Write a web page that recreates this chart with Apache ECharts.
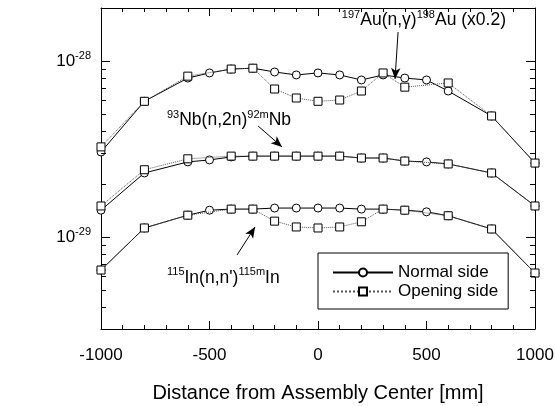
<!DOCTYPE html>
<html><head><meta charset="utf-8">
<script src="https://cdn.jsdelivr.net/npm/echarts@6/dist/echarts.min.js"></script>
<style>html,body{margin:0;padding:0;background:#fff}#c{width:555px;height:406px}</style>
</head><body><div id="c"></div>
<script>
// ---- data ----
const xNormal  = [-1000,-800,-600,-500,-400,-300,-200,-100,0,100,200,300,400,500,600,800,1000];
const xOpening = [-1000,-800,-600,-400,-300,-200,-100,0,100,200,300,400,600,800,1000];

const auNormal  = [3.04e-29,5.9e-29,8.0e-29,8.55e-29,9.0e-29,9.1e-29,8.66e-29,8.33e-29,8.55e-29,8.33e-29,7.8e-29,8.33e-29,8.0e-29,7.8e-29,6.75e-29,4.87e-29,2.63e-29];
const auOpening = [3.25e-29,5.9e-29,8.2e-29,9.0e-29,9.1e-29,6.93e-29,6.16e-29,5.9e-29,6.0e-29,6.75e-29,8.55e-29,7.1e-29,7.5e-29,4.87e-29,2.63e-29];

const nbNormal  = [1.42e-29,2.31e-29,2.67e-29,2.74e-29,2.85e-29,2.88e-29,2.88e-29,2.88e-29,2.88e-29,2.88e-29,2.81e-29,2.81e-29,2.70e-29,2.67e-29,2.60e-29,2.31e-29,1.50e-29];
const nbOpening = [1.50e-29,2.41e-29,2.78e-29,2.88e-29,2.88e-29,2.88e-29,2.88e-29,2.88e-29,2.88e-29,2.81e-29,2.81e-29,2.70e-29,2.60e-29,2.31e-29,1.50e-29];

const inNormal  = [6.49e-30,1.125e-29,1.33e-29,1.42e-29,1.44e-29,1.44e-29,1.46e-29,1.46e-29,1.46e-29,1.46e-29,1.44e-29,1.44e-29,1.42e-29,1.39e-29,1.32e-29,1.11e-29,6.24e-30];
const inOpening = [6.49e-30,1.125e-29,1.33e-29,1.44e-29,1.44e-29,1.23e-29,1.14e-29,1.125e-29,1.14e-29,1.22e-29,1.44e-29,1.42e-29,1.32e-29,1.11e-29,6.24e-30];

const xMajorTicks = [-1000,-500,0,500,1000];
const xMinorTicks = [-900,-800,-700,-600,-400,-300,-200,-100,100,200,300,400,600,700,800,900];
const yMajorTicks = [1e-29,1e-28];
const yMinorTicks = [4e-30,5e-30,6e-30,7e-30,8e-30,9e-30,2e-29,3e-29,4e-29,5e-29,6e-29,7e-29,8e-29,9e-29];

const legendNames = ['Normal side','Opening side'];
const xTitle = 'Distance from Assembly Center [mm]';
const yTitle = 'Reaction-rate [1/source neutron]';

// annotations: [rich text, anchor x (mm), anchor y (rate)]
const annoTexts = [
  ['{s|197}{n|Au(n,γ)}{s|198}{n|Au (x0.2)}', 110, 1.71e-28],
  ['{s|93}{n|Nb(n,2n)}{s|92m}{n|Nb}', -696, 4.62e-29],
  ['{s|115}{n|In(n,n\')}{s|115m}{n|In}', -696, 5.85e-30]
];
// arrows: [from, to] in data coordinates
const arrows = [
  [[369, 1.46e-28],[355, 7.9e-29]],
  [[-276, 4.27e-29],[-166, 3.25e-29]],
  [[-373, 7.9e-30],[-290, 1.14e-29]]
];

// ---- chart ----
const FONT = '"Liberation Sans", Arial, Helvetica, sans-serif';
const xMin = -1000, xMax = 1000, yMin = 3e-30, yMax = 2e-28;
const G = {left:101, right:20, top:8, bottom:77, W:555, H:406};
const chart = echarts.init(document.getElementById('c'), null, {renderer:'canvas'});

function pairs(xs, ys){ return xs.map((x,i)=>[x, ys[i]]); }
function normal(ys){
  return {type:'line', name:legendNames[0], data:pairs(xNormal, ys), symbol:'circle', symbolSize:8,
    itemStyle:{color:'#fff', borderColor:'#000', borderWidth:1},
    lineStyle:{color:'#000', width:1, type:'solid'}, z:3};
}
function opening(ys){
  return {type:'line', name:legendNames[1], data:pairs(xOpening, ys), symbol:'rect', symbolSize:8,
    itemStyle:{color:'#fff', borderColor:'#000', borderWidth:1},
    lineStyle:{color:'#555', width:1, type:'dotted'}, z:4};
}
function xAx(pos, labels){
  return {type:'value', min:xMin, max:xMax, interval:500, position:pos,
    axisLine:{show:true, onZero:false, lineStyle:{color:'#000', width:1}},
    axisTick:{show:false}, minorTick:{show:false},
    axisLabel:{show:labels, color:'#000', fontSize:17, fontFamily:FONT, margin:18, formatter: v => String(v)},
    splitLine:{show:false}, minorSplitLine:{show:false},
    name: labels ? xTitle : '', nameLocation:'middle', nameGap:54,
    nameTextStyle:{color:'#000', fontSize:20, fontFamily:FONT}};
}
function yAx(pos, labels){
  return {type:'log', logBase:10, min:yMin, max:yMax, position:pos,
    axisLine:{show:true, onZero:false, lineStyle:{color:'#000', width:1}},
    axisTick:{show:false}, minorTick:{show:false},
    axisLabel:{show:labels, margin:10,
      formatter: v => {
        const e = Math.log10(+v);
        if (!isFinite(e) || Math.abs(e - Math.round(e)) > 1e-6) return '';
        return '{b|10}{s|' + Math.round(e) + '}';
      },
      rich:{b:{fontSize:17, fontFamily:FONT, color:'#000', lineHeight:22},
            s:{fontSize:11, fontFamily:FONT, color:'#000', lineHeight:12, verticalAlign:'top'}}},
    splitLine:{show:false},
    name: labels ? yTitle : '', nameLocation:'middle', nameGap:74, nameRotate:90,
    nameTextStyle:{color:'#000', fontSize:20, fontFamily:FONT}};
}

// ---- inside ticks as data-coordinate segments (lengths given in pixels, converted to axis units) ----
const mmPerPx = (xMax - xMin) / (G.W - G.left - G.right);
const decPerPx = Math.log10(yMax / yMin) / (G.H - G.top - G.bottom);
const up = (v, pxLen) => v * Math.pow(10, pxLen * decPerPx);
const down = (v, pxLen) => v / Math.pow(10, pxLen * decPerPx);
const tickSegs = [];
function seg(a, b){ tickSegs.push([{coord:a}, {coord:b}]); }
xMajorTicks.forEach(v => { seg([v, yMin], [v, up(yMin, 8)]); seg([v, yMax], [v, down(yMax, 8)]); });
xMinorTicks.forEach(v => { seg([v, yMin], [v, up(yMin, 4)]); seg([v, yMax], [v, down(yMax, 4)]); });
yMajorTicks.forEach(v => { seg([xMin, v], [xMin + 9*mmPerPx, v]); seg([xMax, v], [xMax - 9*mmPerPx, v]); });
yMinorTicks.forEach(v => { seg([xMin, v], [xMin + 5*mmPerPx, v]); seg([xMax, v], [xMax - 5*mmPerPx, v]); });

chart.setOption({
  animation:false,
  backgroundColor:'#fff',
  grid:{left:G.left, right:G.right, top:G.top, bottom:G.bottom, containLabel:false, outerBoundsMode:'none'},
  xAxis:[xAx('bottom', true), xAx('top', false)],
  yAxis:[yAx('left', true), yAx('right', false)],
  legend:{data:legendNames, orient:'vertical', left:318, top:253,
    padding:[11,10,9,14], itemGap:2, itemWidth:60, itemHeight:10,
    borderColor:'#000', borderWidth:1, backgroundColor:'#fff',
    textStyle:{color:'#000', fontSize:17, fontFamily:FONT}},
  series:[
    normal(auNormal), opening(auOpening),
    normal(nbNormal), opening(nbOpening),
    normal(inNormal), opening(inOpening),
    {type:'line', name:'arrows', data:[], silent:true,
      markLine:{silent:true, animation:false, symbol:['none','arrow'], symbolSize:[7,11],
        label:{show:false}, emphasis:{disabled:true},
        lineStyle:{color:'#000', width:1, type:'solid'},
        data: arrows.map(a => [{coord:a[0]}, {coord:a[1]}])}},
    {type:'line', name:'ticks', data:[], silent:true,
      markLine:{silent:true, animation:false, symbol:['none','none'], precision:10,
        label:{show:false}, emphasis:{disabled:true},
        lineStyle:{color:'#000', width:1, type:'solid'},
        data: tickSegs}}
  ]
});

// ---- annotation texts anchored in data coordinates ----
const texts = annoTexts.map(t => {
  const p = chart.convertToPixel({xAxisIndex:0, yAxisIndex:0}, [t[1], t[2]]);
  return {type:'text', x:p[0], y:p[1], z:10,
    style:{text:t[0], align:'left', verticalAlign:'middle', fill:'#000',
      rich:{n:{fontSize:17.5, fontFamily:FONT, fill:'#000', lineHeight:22},
            s:{fontSize:11, fontFamily:FONT, fill:'#000', lineHeight:12, verticalAlign:'top'}}}};
});
chart.setOption({graphic:{elements:texts}});
</script>
</body></html>
